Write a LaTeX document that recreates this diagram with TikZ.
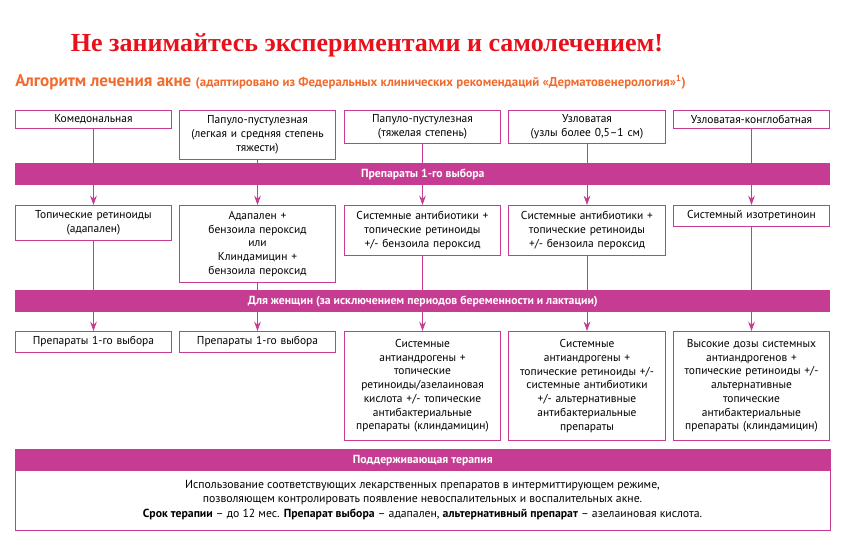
\documentclass[tikz,border=0pt]{standalone}
\usepackage{fontspec}
\setmainfont{PT Sans}
\newfontfamily\titlefont{Liberation Serif}
\usetikzlibrary{arrows.meta}
\definecolor{magent}{HTML}{C63C92}
\definecolor{orng}{HTML}{F26B2E}
\definecolor{ttlred}{HTML}{E8101A}

\begin{document}
\begin{tikzpicture}[x=0.75pt,y=-0.75pt,
  cell/.style={draw=magent,line width=0.6pt,anchor=north,inner sep=1pt,align=center,font=\fontsize{8.6}{10.3}\selectfont,text width=115.5pt},
  bar/.style={fill=magent,anchor=north west,inner sep=0,minimum width=611.25pt,minimum height=16.5pt,text=white,font=\fontsize{8.8}{10}\selectfont\bfseries},
  flow/.style={draw=magent,line width=0.6pt,-{Stealth[length=7pt,width=5pt]}}]
\useasboundingbox (0,0) rectangle (842,539);
% title
\node (title) at (367,45) {\titlefont\bfseries\fontsize{19.5}{22}\selectfont\color{ttlred}Не занимайтесь экспериментами и самолечением!};
\node[anchor=west,inner sep=0,text=orng,font=\bfseries] (sub) at (15,82) {\fontsize{12.8}{14}\selectfont Алгоритм лечения акне \fontsize{9.6}{10}\selectfont(адаптировано из Федеральных клинических рекомендаций «Дерматовенерология»\textsuperscript{1})};
% Row 1
\node[cell,minimum height=13.5pt] (1;1) at (93.5,110) {Комедональная};
\node[cell,minimum height=36.75pt] (1;2) at (257.5,110) {Папуло-пустулезная\\(легкая и средняя степень\\тяжести)};
\node[cell,minimum height=24.75pt] (1;3) at (422.5,110) {Папуло-пустулезная\\(тяжелая степень)};
\node[cell,minimum height=24.75pt] (1;4) at (587,110) {Узловатая\\(узлы более 0,5–1 см)};
\node[cell,minimum height=13.5pt] (1;5) at (751.5,110) {Узловатая-конглобатная};
% Row 2
\node[cell,minimum height=26.25pt] (2;1) at (93.5,205) {Топические ретиноиды\\(адапален)};
\node[cell,minimum height=57.75pt] (2;2) at (257.5,205) {Адапален +\\бензоила пероксид\\или\\Клиндамицин +\\бензоила пероксид};
\node[cell,minimum height=37.5pt] (2;3) at (422.5,205) {Системные антибиотики +\\топические ретиноиды\\+/- бензоила пероксид};
\node[cell,minimum height=37.5pt] (2;4) at (587,205) {Системные антибиотики +\\топические ретиноиды\\+/- бензоила пероксид};
\node[cell,minimum height=15.75pt] (2;5) at (751.5,205) {Системный изотретиноин};
% Row 3
\node[cell,minimum height=15.75pt] (3;1) at (93.5,331) {Препараты 1-го выбора};
\node[cell,minimum height=15.75pt] (3;2) at (257.5,331) {Препараты 1-го выбора};
\node[cell,minimum height=81.75pt] (3;3) at (422.5,331) {Системные\\антиандрогены +\\топические\\ретиноиды/азелаиновая\\кислота +/- топические\\антибактериальные\\препараты (клиндамицин)};
\node[cell,minimum height=81.75pt] (3;4) at (587,331) {Системные\\антиандрогены +\\топические ретиноиды +/-\\системные антибиотики\\+/- альтернативные\\антибактериальные\\препараты};
\node[cell,minimum height=81.75pt] (3;5) at (751.5,331) {Высокие дозы системных\\антиандрогенов +\\топические ретиноиды +/-\\альтернативные\\топические\\антибактериальные\\препараты (клиндамицин)};
% connectors
\foreach \c in {1,...,5}{
  \draw[flow] (1;\c.south) -- (2;\c.north);
  \draw[flow] (2;\c.south) -- (3;\c.north);
}
% bars
\node[bar] (bar1) at (15,163) {Препараты 1-го выбора};
\node[bar] (bar2) at (15,290) {Для женщин (за исключением периодов беременности и лактации)};
\node[draw=magent,line width=0.6pt,anchor=north west,minimum width=611.25pt,minimum height=60.75pt] (keep) at (15,449) {};
\node[bar] (bar3) at (15,449) {Поддерживающая терапия};
\node[align=center,font=\fontsize{8.8}{10.8}\selectfont] (keeptxt) at (422.5,500) {Использование соответствующих лекарственных препаратов в интермиттирующем режиме,\\позволяющем контролировать появление невоспалительных и воспалительных акне.\\\textbf{Срок терапии} – до 12 мес. \textbf{Препарат выбора} – адапален, \textbf{альтернативный препарат} – азелаиновая кислота.};
\end{tikzpicture}
\end{document}
